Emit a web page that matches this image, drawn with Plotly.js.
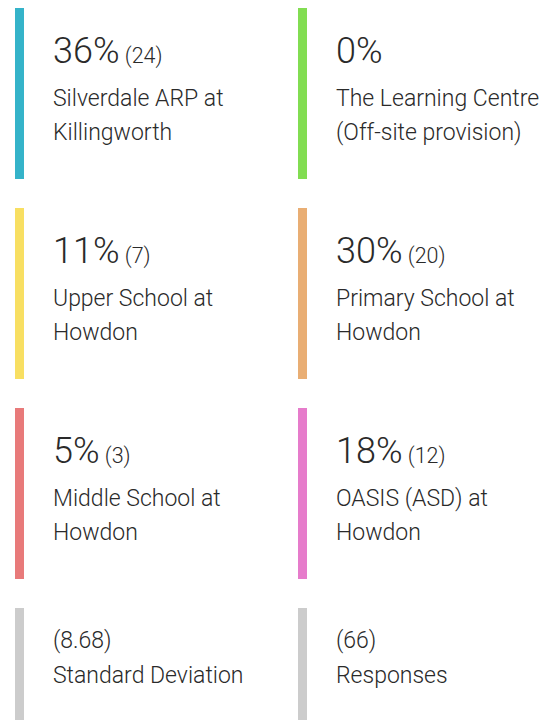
<!DOCTYPE html>
<html>
<head>
<meta charset="utf-8">
<script src="https://cdn.plot.ly/plotly-3.0.1.min.js"></script>
<style>html,body{margin:0;padding:0;background:#fff;}#chart{width:560px;height:720px;}</style>
</head>
<body>
<div id="chart"></div>
<script>
// ---- data ----
var categories = [
  "Silverdale ARP at\nKillingworth",
  "The Learning Centre\n(Off-site provision)",
  "Upper School at\nHowdon",
  "Primary School at\nHowdon",
  "Middle School at\nHowdon",
  "OASIS (ASD) at\nHowdon"
];
var percents = [36, 0, 11, 30, 5, 18];
var counts = [24, 0, 7, 20, 3, 12];
var colors = ["#35b3c9", "#82dd52", "#f8df62", "#e9ae74", "#e87a7a", "#e67ccb"];
var summaryLabels = ["Standard Deviation", "Responses"];
var summaryValues = ["8.68", "66"];
var summaryColor = "#cccccc";

// ---- layout (pixel-mapped axes) ----
var colX = [15, 298];      // stripe left edge per column
var stripeW = 9;
var textOff = 36;           // text x offset from stripe
var rowTop = [8, 208, 408, 608];
var rowH = 171;
var textColor = "#2a2a2a";
var fontFam = "'Roboto Light', Roboto, 'Open Sans', sans-serif";

var shapes = [];
var annotations = [];

function addStripe(col, row, color, h) {
  shapes.push({
    type: "rect", xref: "x", yref: "y", layer: "below",
    x0: colX[col], x1: colX[col] + stripeW,
    y0: rowTop[row], y1: rowTop[row] + h,
    fillcolor: color, line: {width: 0}
  });
}
function addText(col, y, text, size) {
  annotations.push({
    xref: "x", yref: "y", x: colX[col] + textOff, y: y,
    xanchor: "left", yanchor: "middle", showarrow: false,
    text: text, align: "left",
    font: {family: fontFam, size: size, color: textColor, weight: 300}
  });
}

categories.forEach(function (cat, i) {
  var col = i % 2, row = Math.floor(i / 2);
  addStripe(col, row, colors[i], rowH);
  var big = percents[i] + "%";
  if (counts[i] > 0) big += "<span style=\"font-size:21.5px\"> (" + counts[i] + ")</span>";
  addText(col, rowTop[row] + 43, big, 36);
  var lines = cat.split("\n");
  lines.forEach(function (ln, k) {
    addText(col, rowTop[row] + 90 + k * 34, ln, 23);
  });
});

summaryLabels.forEach(function (lab, j) {
  addStripe(j, 3, summaryColor, 130);
  addText(j, rowTop[3] + 32, "(" + summaryValues[j] + ")", 23);
  addText(j, rowTop[3] + 67, lab, 23);
});

// invisible trace so axes exist
var trace = {x: [0, 560], y: [0, 720], mode: "markers", marker: {opacity: 0}, hoverinfo: "skip", showlegend: false};

var layout = {
  width: 560, height: 720,
  margin: {l: 0, r: 0, t: 0, b: 0, pad: 0},
  paper_bgcolor: "#ffffff", plot_bgcolor: "#ffffff",
  xaxis: {range: [0, 560], visible: false, fixedrange: true},
  yaxis: {range: [720, 0], visible: false, fixedrange: true},
  shapes: shapes,
  annotations: annotations,
  showlegend: false
};

Plotly.newPlot("chart", [trace], layout, {displayModeBar: false, staticPlot: true});
</script>
</body>
</html>
